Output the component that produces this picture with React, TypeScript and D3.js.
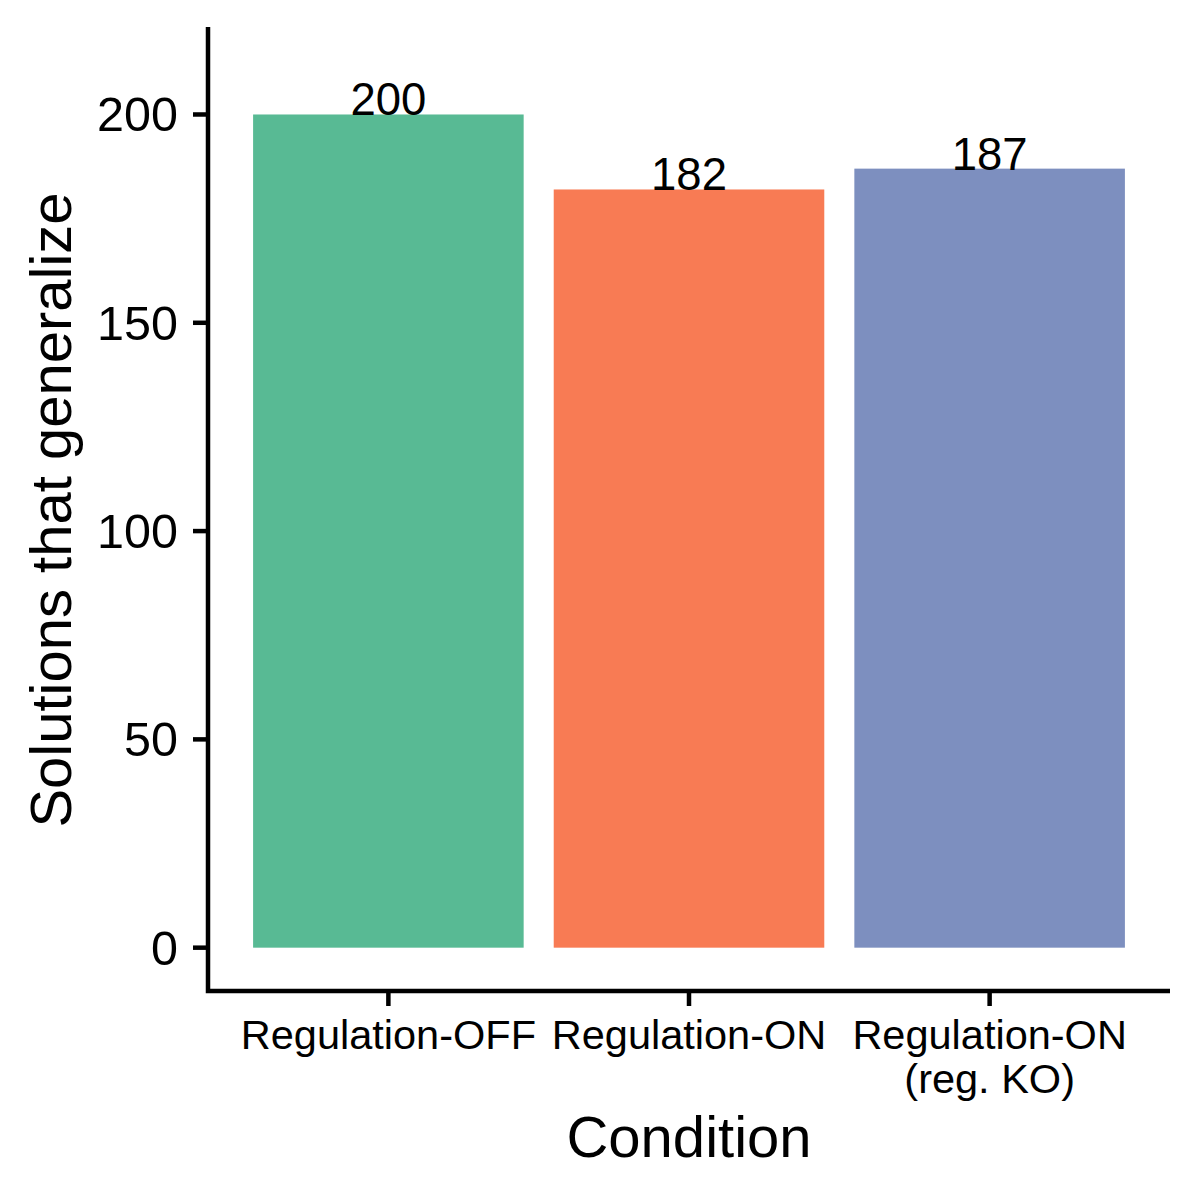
import * as d3 from "d3";
import React from "react";

// bar chart data
const conditions = ["Regulation-OFF", "Regulation-ON", "Regulation-ON\n(reg. KO)"];
const solutions = [200, 182, 187];
const barColors = ["#58BA94", "#F87B54", "#7D8FBF"];
const yTickValues = [0, 50, 100, 150, 200];

const fontFamily = "'Liberation Sans', Arial, Helvetica, sans-serif";

export default function App({
  width = 1200,
  height = 1200,
  marginTop = 27,
  marginRight = 30,
  marginBottom = 209,
  marginLeft = 208,
}: {
  width?: number;
  height?: number;
  marginTop?: number;
  marginRight?: number;
  marginBottom?: number;
  marginLeft?: number;
}) {
  const xScale = d3
    .scaleBand<string>()
    .domain(conditions)
    .range([marginLeft, width - marginRight])
    .paddingInner(0.1)
    .paddingOuter(0.15);

  const yScale = d3
    .scaleLinear()
    .domain([-10.4, 221])
    .range([height - marginBottom, marginTop]);

  const axisY = height - marginBottom;

  return (
    <div>
      <style>{`body{margin:0}`}</style>
      <svg width={width} height={height} style={{ display: "block" }} fontFamily={fontFamily}>
        <rect width={width} height={height} fill="white" />

        {/* bars */}
        {conditions.map((c, i) => (
          <rect
            key={c}
            x={xScale(c)}
            y={yScale(solutions[i])}
            width={xScale.bandwidth()}
            height={yScale(0) - yScale(solutions[i])}
            fill={barColors[i]}
          />
        ))}

        {/* value labels */}
        {conditions.map((c, i) => (
          <text
            key={`lab-${c}`}
            x={(xScale(c) ?? 0) + xScale.bandwidth() / 2}
            y={yScale(solutions[i]) + 1}
            textAnchor="middle"
            fontSize={45.5}
            fill="black"
          >
            {solutions[i]}
          </text>
        ))}

        {/* axes lines */}
        <path
          d={["M", marginLeft, marginTop, "V", axisY, "H", width - marginRight].join(" ")}
          fill="none"
          stroke="black"
          strokeWidth={4.5}
          strokeLinejoin="miter"
        />

        {/* y-axis */}
        <g fontSize={48.5} textAnchor="end">
          {yTickValues.map((v) => (
            <g key={v} transform={`translate(${marginLeft},${yScale(v)})`}>
              <line x1={-15} x2={0} stroke="black" strokeWidth={4.5} />
              <text x={-30} dy="0.35em" fill="black">
                {v}
              </text>
            </g>
          ))}
        </g>

        {/* x-axis */}
        <g fontSize={41.5} textAnchor="middle">
          {conditions.map((c) => (
            <g key={c} transform={`translate(${(xScale(c) ?? 0) + xScale.bandwidth() / 2},${axisY})`}>
              <line y1={0} y2={15} stroke="black" strokeWidth={4.5} />
              <text y={58} fill="black">
                {c.split("\n").map((line, j) => (
                  <tspan key={j} x={0} dy={j === 0 ? 0 : 44}>
                    {line}
                  </tspan>
                ))}
              </text>
            </g>
          ))}
        </g>

        {/* axis titles */}
        <text x={689} y={1157} textAnchor="middle" fontSize={58} fill="black">
          Condition
        </text>
        <text
          transform={`translate(71,${(marginTop + axisY) / 2 + 1}) rotate(-90)`}
          textAnchor="middle"
          fontSize={58}
          fill="black"
        >
          Solutions that generalize
        </text>
      </svg>
    </div>
  );
}
